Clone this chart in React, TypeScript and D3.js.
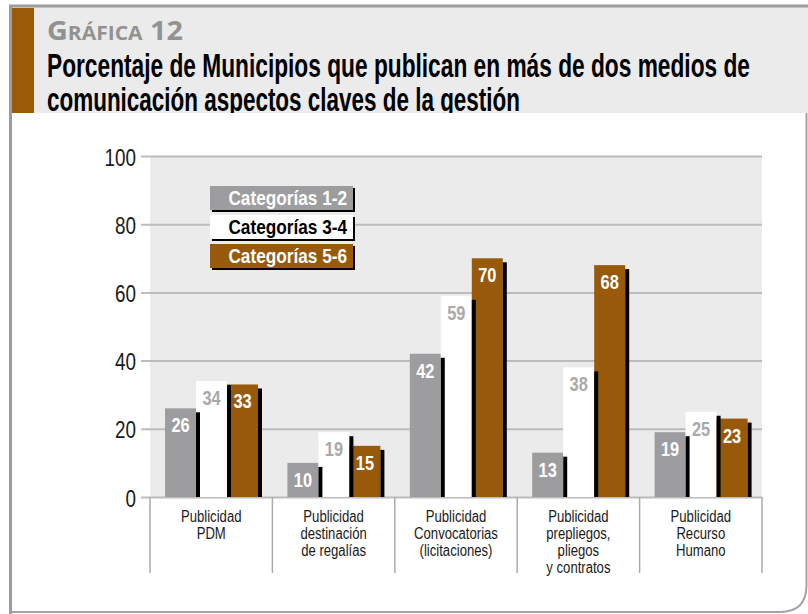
import * as d3 from 'd3';
import React, { useEffect, useRef } from 'react';

// categories (one entry per line of the label)
const categories = [
    [ 'Publicidad', 'PDM' ],
    [ 'Publicidad', 'destinación', 'de regalías' ],
    [ 'Publicidad', 'Convocatorias', '(licitaciones)' ],
    [ 'Publicidad', 'prepliegos,', 'pliegos', 'y contratos' ],
    [ 'Publicidad', 'Recurso', 'Humano' ]
];
const seriesNames = [ 'Categorías 1-2', 'Categorías 3-4', 'Categorías 5-6' ];
const cat12 = [ 26, 10, 42, 13, 19 ];
const cat34 = [ 34, 19, 59, 38, 25 ];
const cat56 = [ 33, 15, 70, 68, 23 ];
const yTicks = [ 0, 20, 40, 60, 80, 100 ];

const W = 808;
const H = 614;

// no narrow font installed, so Liberation Sans is squeezed horizontally
const SANS = '"Liberation Sans", Arial, sans-serif';
const SQ = 0.82;

const fills = [ '#9d9d9f', '#ffffff', '#985a0a' ];
const labelFills = [ '#ffffff', '#a9a9a9', '#ffffff' ];
const legendText = [ '#ffffff', '#000000', '#ffffff' ];

/**
 * Chart.
 */
export default function App() {
    const ref = useRef<SVGSVGElement>(null);

    useEffect(() => {
        const svg = d3.select(ref.current);

        svg.selectAll('*').remove();

        const series = [ cat12, cat34, cat56 ];

        // frame
        svg.append('rect')
            .attr('x', 12)
            .attr('y', 7)
            .attr('width', W - 12)
            .attr('height', 106)
            .attr('fill', '#ebebeb');
        svg.append('rect')
            .attr('x', 12)
            .attr('y', 8)
            .attr('width', 22)
            .attr('height', 105)
            .attr('fill', '#9a5a08');

        const head = svg.append('text')
            .attr('x', 47)
            .attr('y', 40)
            .attr('textLength', 136)
            .attr('lengthAdjust', 'spacingAndGlyphs')
            .attr('fill', '#929292')
            .style('font-family', '"Open Sans", "Noto Sans", sans-serif')
            .style('font-weight', 700);

        head.append('tspan').attr('font-size', 26).text('G');
        head.append('tspan').attr('font-size', 19).text('RÁFICA');
        head.append('tspan').attr('font-size', 26).text(' 12');

        svg.append('text')
            .attr('x', 47)
            .attr('y', 77)
            .attr('textLength', 703)
            .attr('lengthAdjust', 'spacingAndGlyphs')
            .style('font-family', SANS)
            .style('font-weight', 700)
            .style('font-size', '33px')
            .text('Porcentaje de Municipios que publican en más de dos medios de');
        svg.append('text')
            .attr('x', 47)
            .attr('y', 111)
            .attr('textLength', 473)
            .attr('lengthAdjust', 'spacingAndGlyphs')
            .style('font-family', SANS)
            .style('font-weight', 700)
            .style('font-size', '33px')
            .text('comunicación aspectos claves de la gestión');

        // white panel with rounded corner
        svg.append('path')
            .attr('d', `M12,113 L${W - 1.5},113 L${W - 1.5},585 Q${W - 1.5},612 780,612 L12,612 Z`)
            .attr('fill', '#fff')
            .attr('stroke', 'none');
        svg.append('path')
            .attr('d', `M${W - 1.5},113 L${W - 1.5},585 Q${W - 1.5},612 780,612 L12,612`)
            .attr('fill', 'none')
            .attr('stroke', '#a3a3a3')
            .attr('stroke-width', 2);
        svg.append('path')
            .attr('d', `M10.5,${H} L10.5,6 L${W},6`)
            .attr('fill', 'none')
            .attr('stroke', '#9c9c9c')
            .attr('stroke-width', 3);

        // scales
        const x = d3.scaleBand<number>()
            .domain(d3.range(categories.length))
            .range([ 150, 762 ]);
        const xs = d3.scaleBand<number>()
            .domain(d3.range(series.length))
            .range([ 15, 108 ]);
        const y = d3.scaleLinear()
            .domain([ 0, 100 ])
            .range([ 497, 156 ]);

        svg.append('rect')
            .attr('x', 150)
            .attr('y', y(100))
            .attr('width', 612)
            .attr('height', y(0) - y(100))
            .attr('fill', '#ebebeb');

        const yAxis = d3.axisLeft(y)
            .tickValues(yTicks)
            .tickSizeInner(-(762 - 141))
            .tickSizeOuter(0)
            .tickPadding(5);

        const gy = svg.append('g')
            .attr('transform', 'translate(141,0)')
            .call(yAxis);

        gy.select('.domain').remove();
        gy.selectAll('.tick line')
            .attr('stroke', '#bcbcbc')
            .attr('stroke-width', 2);
        gy.selectAll('.tick text')
            .attr('dy', null)
            .attr('x', 0)
            .attr('y', 0)
            .attr('transform', `translate(-5,9) scale(${SQ},1)`)
            .attr('fill', '#1a1a1a')
            .style('font-family', SANS)
            .style('font-size', '23px');

        // category dividers
        svg.append('g')
            .selectAll('line')
            .data(d3.range(categories.length + 1))
            .enter()
            .append('line')
            .attr('x1', i => (i < categories.length ? x(i) : x.range()[1]))
            .attr('x2', i => (i < categories.length ? x(i) : x.range()[1]))
            .attr('y1', y(0))
            .attr('y2', 573)
            .attr('stroke', '#ababab')
            .attr('stroke-width', 1.5);

        // category labels
        const lab = svg.append('g')
            .selectAll('text')
            .data(categories)
            .enter()
            .append('text')
            .attr('transform', (_, i) => `translate(${x(i) + x.bandwidth() / 2},0) scale(${SQ},1)`)
            .attr('text-anchor', 'middle')
            .attr('fill', '#1a1a1a')
            .style('font-family', SANS)
            .style('font-size', '16px');

        lab.each(function(lines) {
            d3.select(this)
                .selectAll('tspan')
                .data(lines)
                .enter()
                .append('tspan')
                .attr('x', 0)
                .attr('y', (_, k) => 522 + k * 17)
                .text(d => d);
        });

        const flat = series.flatMap((vals, s) => vals.map((v, i) => ({ s, i, v })));
        const bw = xs.bandwidth();

        const bars = svg.append('g');

        bars.selectAll('rect.bar')
            .data(flat)
            .enter()
            .append('rect')
            .attr('class', 'bar')
            .attr('x', d => x(d.i) + xs(d.s))
            .attr('y', d => y(d.v))
            .attr('width', bw)
            .attr('height', d => y(0) - y(d.v))
            .attr('fill', d => fills[d.s]);

        bars.selectAll('rect.shadow')
            .data(flat)
            .enter()
            .append('rect')
            .attr('class', 'shadow')
            .attr('x', d => x(d.i) + xs(d.s) + bw)
            .attr('y', d => y(d.v) + 4)
            .attr('width', 4)
            .attr('height', d => y(0) - y(d.v) - 4)
            .attr('fill', '#000');

        bars.selectAll('text')
            .data(flat)
            .enter()
            .append('text')
            .attr('transform', d => `translate(${x(d.i) + xs(d.s) + bw / 2},${y(d.v) + 24}) scale(${SQ},1)`)
            .attr('text-anchor', 'middle')
            .attr('fill', d => labelFills[d.s])
            .style('font-family', SANS)
            .style('font-weight', 700)
            .style('font-size', '20px')
            .text(d => d.v);

        // legend
        const leg = svg.append('g')
            .selectAll('g')
            .data(seriesNames)
            .enter()
            .append('g')
            .attr('transform', (_, i) => `translate(210,${186 + i * 29})`);

        leg.append('rect')
            .attr('x', 2)
            .attr('y', 2)
            .attr('width', 143)
            .attr('height', 24)
            .attr('fill', '#000');
        leg.append('rect')
            .attr('width', 143)
            .attr('height', 24)
            .attr('fill', (_, i) => fills[i]);
        leg.append('text')
            .attr('transform', `translate(137,19) scale(${SQ},1)`)
            .attr('text-anchor', 'end')
            .attr('fill', (_, i) => legendText[i])
            .style('font-family', SANS)
            .style('font-weight', 700)
            .style('font-size', '21px')
            .text(d => d);
    }, []);

    return (
        <svg
            ref={ref}
            width={W}
            height={H}
            style={{ position: 'absolute', left: 0, top: 0, background: '#fff' }} />
    );
}
